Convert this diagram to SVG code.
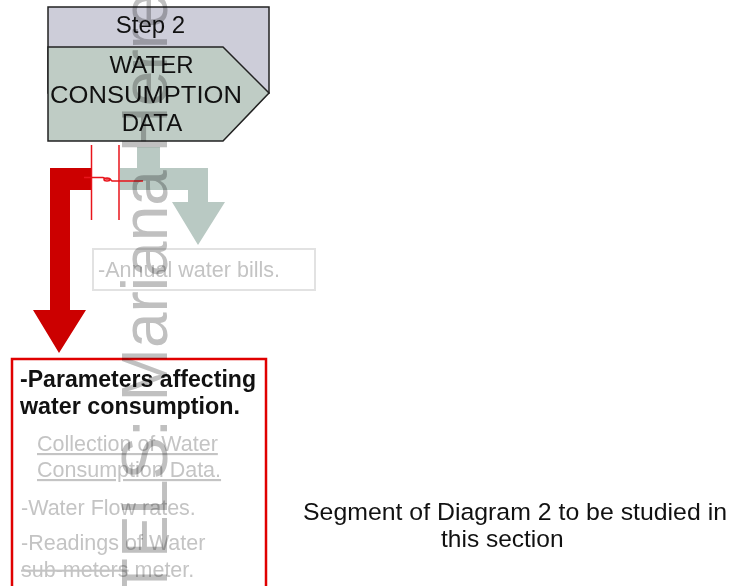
<svg xmlns="http://www.w3.org/2000/svg" width="735" height="586" viewBox="0 0 735 586">
  <style>
    .lbl { font-family: "Liberation Sans", Arial, Helvetica, sans-serif; }
    .step { font-size: 24px; fill: #111; text-anchor: middle; }
    .bold { font-size: 23px; font-weight: bold; fill: #111; }
    .faint { font-size: 21.5px; fill: #c4c4c4; }
    .caption { font-size: 24.5px; fill: #111; }
    .mark { font-family: "Liberation Sans", Arial, sans-serif; font-size: 64px; fill: #c0c0c0; mix-blend-mode: multiply; }
  </style>

  <rect width="735" height="586" fill="#ffffff"/>

  <!-- connectors -->
  <g id="connectors">
    <!-- grey-green elbow arrow to the bills box -->
    <path d="M137,147 H160 V168 H208 V202 H225 L198,245 L172,202 H188 V190 H120 V168 H137 Z" fill="#b9c9c3"/>
    <!-- red elbow arrow to the parameters box -->
    <path d="M50,168 H92 V190 H70 V310 H86 L59,353 L33,310 H50 Z" fill="#cc0000"/>
    <!-- thin red guide lines -->
    <g fill="none" stroke="#e8141b" stroke-width="1.5">
      <line x1="91.5" y1="145" x2="91.5" y2="220"/>
      <line x1="119" y1="145" x2="119" y2="220"/>
      <path d="M84,177.5 H103 L106,179 H110 L112,181 H143"/>
      <ellipse cx="107" cy="179.5" rx="3" ry="1.5"/>
    </g>
  </g>

  <!-- step node -->
  <g id="step2">
    <rect x="48" y="7" width="221" height="86" fill="#cdcdd9" stroke="#222" stroke-width="1.5"/>
    <polygon points="48,47 223,47 269,93 223,141 48,141" fill="#bfccc5" stroke="#222" stroke-width="1.5"/>
    <text class="lbl step" x="150.5" y="33">Step 2</text>
    <text class="lbl step" x="151.5" y="73">WATER</text>
    <text class="lbl step" x="146" y="103" textLength="192" lengthAdjust="spacingAndGlyphs">CONSUMPTION</text>
    <text class="lbl step" x="152" y="131">DATA</text>
  </g>

  <!-- annual bills node -->
  <g id="bills">
    <rect x="93" y="249" width="222" height="41" fill="#ffffff" stroke="#e2e2e2" stroke-width="2"/>
    <text class="lbl faint" x="98" y="277" textLength="182" lengthAdjust="spacingAndGlyphs">-Annual water bills.</text>
  </g>

  <!-- parameters node -->
  <g id="parameters">
    <rect x="12" y="359" width="254" height="240" fill="#ffffff" stroke="#e00000" stroke-width="2.5"/>
    <text class="lbl bold" x="20" y="387" textLength="236" lengthAdjust="spacingAndGlyphs">-Parameters affecting</text>
    <text class="lbl bold" x="20" y="414" textLength="220" lengthAdjust="spacingAndGlyphs">water consumption.</text>
    <text class="lbl faint" x="37" y="451" text-decoration="underline">Collection of Water</text>
    <text class="lbl faint" x="37" y="477" text-decoration="underline">Consumption Data.</text>
    <text class="lbl faint" x="21" y="515">-Water Flow rates.</text>
    <text class="lbl faint" x="21" y="550">-Readings of Water</text>
    <text class="lbl faint" x="21" y="577"><tspan text-decoration="line-through">sub-meters</tspan> meter.</text>
  </g>

  <!-- caption -->
  <g id="caption">
    <text class="lbl caption" x="303" y="520" textLength="424" lengthAdjust="spacingAndGlyphs">Segment of Diagram 2 to be studied in</text>
    <text class="lbl caption" x="441" y="547">this section</text>
  </g>

  <!-- vertical watermark -->
  <text class="mark" transform="translate(167,597) rotate(-90)">TELS: Mariana Herrera</text>
</svg>
